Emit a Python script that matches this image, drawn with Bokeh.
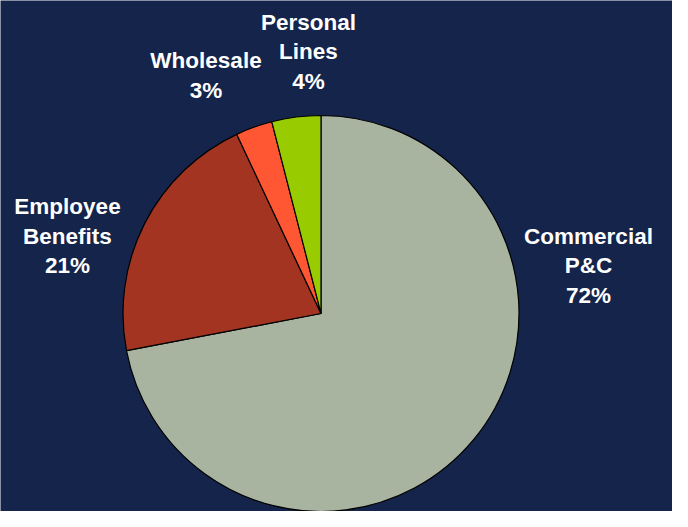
import numpy as np
from bokeh.plotting import figure
from bokeh.models import ColumnDataSource
from bokeh.core.properties import value
from bokeh.embed import file_html
from bokeh.resources import INLINE

categories = ["Commercial\nP&C", "Employee\nBenefits", "Wholesale", "Personal\nLines"]
shares = [72, 21, 3, 4]
colors = ["#a9b4a0", "#a23421", "#ff5634", "#99cc00"]
label_x = [588, 67, 205.5, 308]
label_y = [246, 275.5, 436, 460]

BG = "#14244a"
W, H = 672, 511
cx, cy, r = 320.5, 198, 198

vals = np.array(shares, dtype=float)
frac = vals / vals.sum()
cum = np.concatenate([[0], np.cumsum(frac)])
start = np.pi / 2 - 2 * np.pi * cum[:-1]
end = np.pi / 2 - 2 * np.pi * cum[1:]
labels = [f"{c}\n{s}%" for c, s in zip(categories, shares)]

src = ColumnDataSource(dict(start=start, end=end, color=colors,
                            lx=label_x, ly=label_y, label=labels))

p = figure(width=W, height=H, x_range=(0, W), y_range=(0, H),
           output_backend="svg", toolbar_location=None,
           background_fill_color=BG, border_fill_color=BG,
           min_border=0, outline_line_color=None)
p.axis.visible = False
p.grid.visible = False

p.wedge(x=cx, y=cy, radius=r, start_angle="start", end_angle="end",
        direction="clock", fill_color="color", line_color="#000000",
        line_width=1.2, source=src)

p.text(x="lx", y="ly", text="label", source=src,
       text_font=value("Liberation Sans"), text_font_style="bold",
       text_font_size="22.5px", text_color="white", text_align="center",
       text_baseline="middle", text_line_height=1.18)

html = file_html(p, INLINE)
html = html.replace("<body>", f'<body style="background-color:{BG};">', 1)
open("out.html", "w").write(html)
